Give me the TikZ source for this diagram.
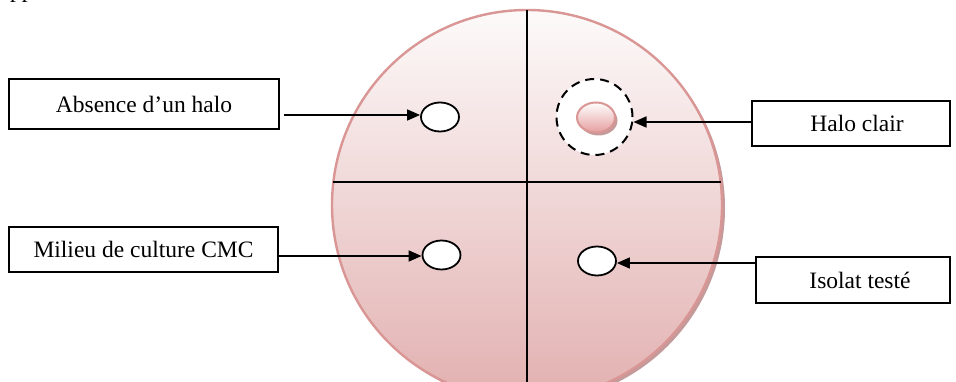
\documentclass[tikz,border=0pt]{standalone}
\usepackage{fontspec}
\setmainfont{Liberation Serif}
\usetikzlibrary{arrows.meta,shapes.geometric,shadows}
\definecolor{rim}{HTML}{D99694}
\definecolor{topc}{HTML}{FDFAFA}
\definecolor{botc}{HTML}{E2B0B0}
\definecolor{shad}{HTML}{C49A9A}
\begin{document}
\begin{tikzpicture}[x=1pt,y=-1pt,
  lab/.style={draw=black,line width=1.6pt,fill=white,inner sep=0pt,font=\fontsize{23.5}{28}\selectfont},
  colony/.style={ellipse,draw=black,line width=1.8pt,fill=white,inner sep=0pt,minimum width=38pt,minimum height=29pt},
  arr/.style={line width=1.6pt,-{Triangle[length=13pt,width=11pt]}},
  divider/.style={line width=1.4pt,black}]
\useasboundingbox (0,0) rectangle (956,382);
\clip (0,0) rectangle (956,382);
% cut-off text fragment at top-left
\node[anchor=base west,inner sep=0pt,font=\fontsize{23.5}{28}\selectfont] (frag) at (10,-2) {pp};
% petri dish
\fill[shad] (530,208) circle (195);
\shade[top color=topc,bottom color=botc] (527,205) circle (195);
\draw[rim,line width=2.4pt] (527,205) circle (195);
\coordinate (vt) at (527,10);
\coordinate (vb) at (527,400);
\coordinate (hl) at (333.4,182);
\coordinate (hr) at (720.6,182);
\draw[divider] (vt) -- (vb);
\draw[divider] (hl) -- (hr);
% colonies
\node[colony] (e1) at (440,117) {};
\node[colony] (e3) at (441.5,255) {};
\node[colony] (e4) at (597,261) {};
\node[circle,draw=black,fill=white,line width=2pt,dash pattern=on 9pt off 6pt,inner sep=0pt,minimum size=76pt] (halo) at (594.5,117) {};
\fill[shad] (598.5,120.5) ellipse (19 and 15);
\node[ellipse,draw=rim,line width=2pt,top color=white,bottom color=botc!90!red,inner sep=0pt,minimum width=38pt,minimum height=30pt] (e2) at (596,117.5) {};
% labels
\node[lab,minimum width=270pt,minimum height=50pt] (b1) at (144,104) {Absence d’un halo};
\node[lab,minimum width=198pt,minimum height=45pt] (b2) at (851,123.5) {\hspace*{12pt}Halo clair};
\node[lab,minimum width=269pt,minimum height=45pt] (b3) at (143.5,249.5) {Milieu de culture CMC};
\node[lab,minimum width=194pt,minimum height=46pt] (b4) at (853,280) {\hspace*{14pt}Isolat testé};
% arrows
\coordinate (a1) at (284,115);
\draw[arr] (a1) -- (a1 -| e1.west);
\coordinate (a2) at (752,122);
\draw[arr] (a2) -- (a2 -| halo.east);
\coordinate (a3) at (278,256);
\draw[arr] (a3) -- (a3 -| e3.west);
\coordinate (a4) at (756,263);
\draw[arr] (a4) -- (a4 -| e4.east);
\end{tikzpicture}
\end{document}
